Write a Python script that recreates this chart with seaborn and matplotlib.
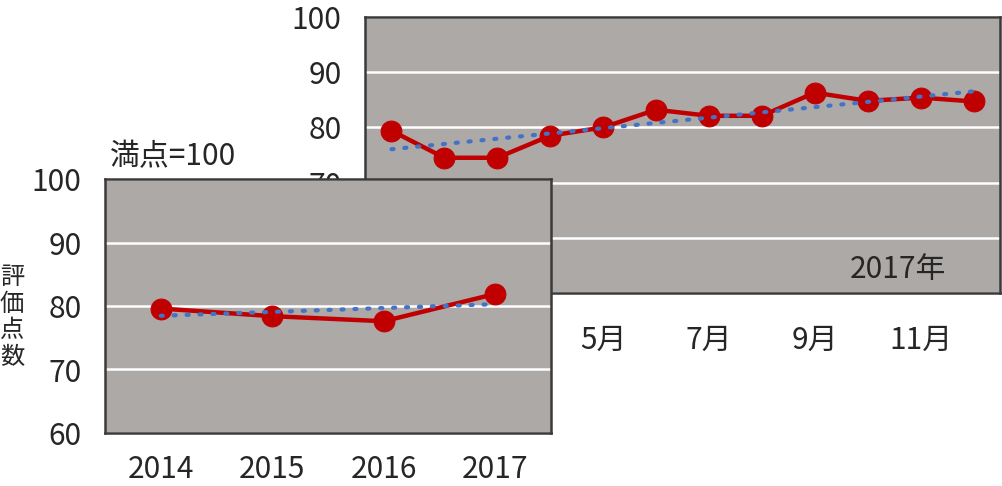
import matplotlib
matplotlib.use("Agg")
import matplotlib.pyplot as plt
import seaborn as sns

sns.set_style("white")
plt.rcParams["font.family"] = ["Noto Sans CJK JP", "DejaVu Sans"]

# ── data ──────────────────────────────────────────────────────────────────────
months = list(range(1, 13))
month_scores = [79.4, 74.5, 74.5, 78.5, 80.0, 83.2, 82.1, 82.1, 86.3, 84.8, 85.4, 84.7]
month_ticks = [1, 3, 5, 7, 9, 11]
month_labels = [f"{m}月" for m in month_ticks]

years = ["2014", "2015", "2016", "2017"]
year_pos = list(range(len(years)))
year_scores = [79.6, 78.4, 77.6, 81.9]

RED, BLUE = "#C00000", "#4472C4"
PANEL, EDGE = "#ADA9A7", "#3a3a3a"
FS = 21.5

fig = plt.figure(figsize=(10.02, 4.86), dpi=100)
ax_m = fig.add_axes([365/1002, 1-293/486, 635/1002, (293-17)/486])
ax_y = fig.add_axes([105/1002, 1-433/486, 446/1002, (433-179)/486])


def style(ax, ylo, xpad):
    ax.set_facecolor(PANEL)
    ax.set_ylim(ylo, 100)
    ax.set_yticks(range(ylo, 101, 10))
    ax.yaxis.grid(True, color="white", lw=1.8)
    ax.xaxis.grid(False)
    ax.set_axisbelow(True)
    for s in ax.spines.values():
        s.set_visible(True); s.set_color(EDGE); s.set_linewidth(1.8)
    ax.tick_params(axis="y", length=0, labelsize=FS, pad=17)
    ax.tick_params(axis="x", length=0, labelsize=FS, pad=xpad)
    ax.set_xlabel(""); ax.set_ylabel("")


def draw(ax, x, y):
    sns.lineplot(x=x, y=y, color=RED, lw=3.2, marker="o", markersize=15,
                 markeredgecolor=RED, ax=ax, zorder=3)
    sns.regplot(x=x, y=y, scatter=False, ci=None, truncate=True, ax=ax,
                line_kws=dict(color=BLUE, lw=3, ls=(0, (0.5, 2.6)),
                              dash_capstyle="round", zorder=4))


# ── monthly 2017 (back panel) ─────────────────────────────────────────────────
draw(ax_m, months, month_scores)
style(ax_m, 50, 23)
ax_m.set_xlim(0.5, 12.5)
ax_m.set_xticks(month_ticks, month_labels)
ax_m.text(0.84, 0.085, "2017年", transform=ax_m.transAxes, fontsize=FS,
          ha="center", va="center")

# ── yearly (front panel) ──────────────────────────────────────────────────────
draw(ax_y, year_pos, year_scores)
style(ax_y, 60, 15)
ax_y.set_xlim(-0.5, 3.5)
ax_y.set_xticks(year_pos, years)

fig.text(110/1002, 1-157/486, "満点=100", fontsize=FS, ha="left", va="center")
fig.text(12/1002, 1-317/486, "評\n価\n点\n数", fontsize=17.5, ha="center",
         va="center", linespacing=1.02)

fig.savefig("out.png", dpi=100)
